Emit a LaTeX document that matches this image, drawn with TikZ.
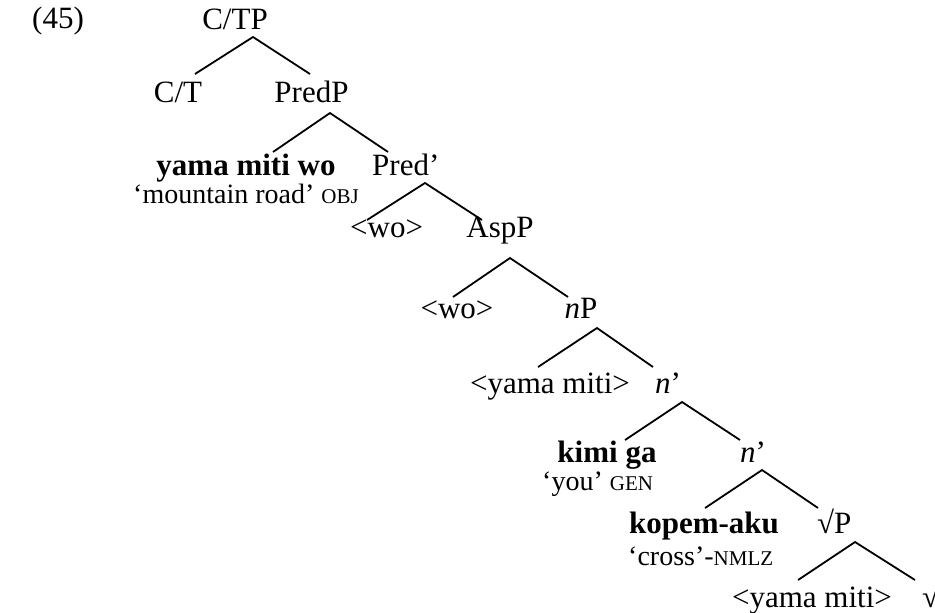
\documentclass[tikz,border=0pt]{standalone}
\usepackage{fontspec}
\setmainfont{Liberation Serif}
\newcommand\glsc[1]{{\fontsize{21}{24}\selectfont #1}}
\begin{document}
\begin{tikzpicture}[x=1pt,y=-1pt,
  lab/.style={inner sep=0pt, font=\fontsize{31}{36}\selectfont},
  gl/.style={inner sep=0pt, font=\fontsize{28}{32}\selectfont},
  br/.style={line width=1.8pt}]
\useasboundingbox (0,0) rectangle (935,613);
% labels
\node[lab,anchor=base west] (ex) at (32,28) {(45)};
\node[lab,anchor=base] (ctp) at (235,29) {C/TP};
\node[lab,anchor=base] (ct) at (178,102) {C/T};
\node[lab,anchor=base] (predp) at (311.5,102) {PredP};
\node[lab,anchor=base] (ymw) at (246,175) {\bfseries yama miti wo};
\node[gl,anchor=base west] (ymwg) at (133,203) {‘mountain road’ \glsc{OBJ}};
\node[lab,anchor=base west] (predb) at (372,175) {Pred’};
\node[lab,anchor=base west] (wo1) at (350,237) {<wo>};
\node[lab,anchor=base] (aspp) at (500,237) {AspP};
\node[lab,anchor=base] (wo2) at (457,318) {<wo>};
\node[lab,anchor=base] (np) at (581,318) {\textit{n}P};
\node[lab,anchor=base] (ym1) at (550,393) {<yama miti>};
\node[lab,anchor=base west] (nb1) at (655,393) {\textit{n}’};
\node[lab,anchor=base] (kg) at (607,462) {\bfseries kimi ga};
\node[gl,anchor=base west] (kgg) at (542,490) {‘you’ \glsc{GEN}};
\node[lab,anchor=base west] (nb2) at (740,462) {\textit{n}’};
\node[lab,anchor=base] (ka) at (704,533) {\bfseries kopem-aku};
\node[gl,anchor=base west] (kag) at (628,565) {‘cross’-\glsc{NMLZ}};
\node[lab,anchor=base west] (rp) at (817,533) {√P};
\node[lab,anchor=base] (ym2) at (812,607) {<yama miti>};
\node[lab,anchor=base west] (rt) at (922,607) {√};
% branch points
\coordinate (ctp-a) at (253,37);  \coordinate (ct-t) at (195,74);  \coordinate (predp-t) at (310,74);
\coordinate (predp-a) at (330,113); \coordinate (ymw-t) at (273,152); \coordinate (predb-t) at (388,152);
\coordinate (predb-a) at (425,183); \coordinate (wo1-t) at (367,220); \coordinate (aspp-t) at (482,220);
\coordinate (aspp-a) at (510,258); \coordinate (wo2-t) at (453,297); \coordinate (np-t) at (568,297);
\coordinate (np-a) at (597,328); \coordinate (ym1-t) at (538,367); \coordinate (nb1-t) at (653,367);
\coordinate (nb1-a) at (682,402); \coordinate (kg-t) at (625,440); \coordinate (nb2-t) at (740,440);
\coordinate (nb2-a) at (762,470); \coordinate (ka-t) at (705,508); \coordinate (rp-t) at (818,508);
\coordinate (rp-a) at (855,542); \coordinate (ym2-t) at (798,580); \coordinate (rt-t) at (915,580);
% branches
\draw[br] (ct-t) -- (ctp-a) -- (predp-t);
\draw[br] (ymw-t) -- (predp-a) -- (predb-t);
\draw[br] (wo1-t) -- (predb-a) -- (aspp-t);
\draw[br] (wo2-t) -- (aspp-a) -- (np-t);
\draw[br] (ym1-t) -- (np-a) -- (nb1-t);
\draw[br] (kg-t) -- (nb1-a) -- (nb2-t);
\draw[br] (ka-t) -- (nb2-a) -- (rp-t);
\draw[br] (ym2-t) -- (rp-a) -- (rt-t);
\end{tikzpicture}
\end{document}
